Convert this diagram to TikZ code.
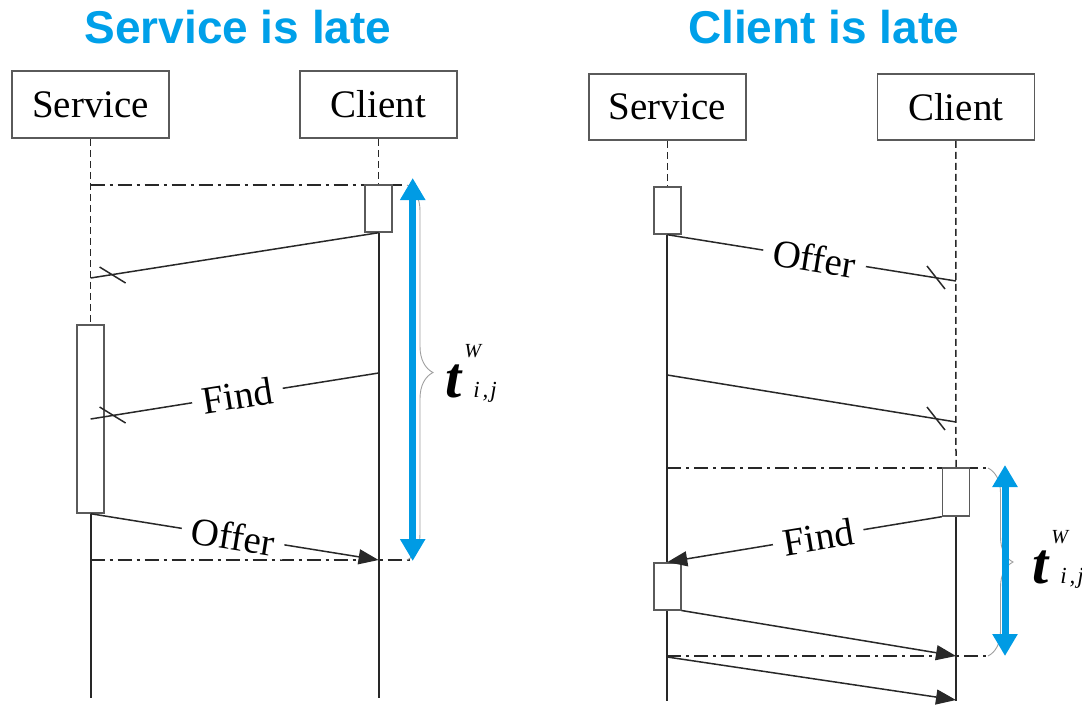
\documentclass[tikz,border=0pt]{standalone}
\usepackage{fontspec}
\setmainfont{Liberation Serif}
\newfontfamily\titlefont{Liberation Sans}
\usetikzlibrary{arrows.meta,calc,decorations.pathreplacing}
\definecolor{titleblue}{RGB}{0,160,233}
\definecolor{spanblue}{RGB}{0,155,228}
\definecolor{linegray}{RGB}{40,40,40}
\definecolor{boxgray}{RGB}{90,90,90}
% waiting-time symbol t^W_{i,j}
\newcommand\waitsym{{\fontsize{58}{58}\selectfont\bfseries\itshape t}\rlap{\kern3pt\raisebox{40pt}{\fontsize{20}{20}\selectfont\itshape W}}\kern12pt{\fontsize{23}{23}\selectfont\itshape i\kern3pt,\kern2pt j}}
\begin{document}
\begin{tikzpicture}[x=1pt,y=-1pt,
  seqtitle/.style={font=\titlefont\bfseries\fontsize{46}{46}\selectfont, text=titleblue, anchor=base, inner sep=0},
  header/.style={draw=boxgray, line width=1.6pt, fill=white, minimum width=157pt, minimum height=67pt, inner sep=0, font=\fontsize{39}{39}\selectfont},
  actbar/.style={draw=boxgray, line width=1.4pt, fill=white, minimum width=27pt, inner sep=0},
  lifeon/.style={draw=linegray, line width=1.8pt},
  lifeoff/.style={draw=linegray, line width=1.5pt, dash pattern=on 7pt off 4pt},
  window/.style={draw=linegray, line width=1.6pt, dash pattern=on 14pt off 5pt on 3pt off 5pt},
  msgline/.style={draw=linegray, line width=1.5pt},
  msgcall/.style={msgline, -{Triangle[length=20pt,width=15pt]}},
  msglabel/.style={sloped, fill=white, inner xsep=10pt, inner ysep=1pt, font=\fontsize{39}{39}\selectfont},
  waitspan/.style={draw=spanblue, line width=7pt, {Triangle[length=22pt,width=24pt]}-{Triangle[length=22pt,width=24pt]}},
  waitbrace/.style={draw=gray!75, line width=0.9pt, decorate},
  waitlabel/.style={anchor=base west, inner sep=0}
]
\useasboundingbox (0,0) rectangle (1082,705);

% titles
\node[seqtitle] (ttl1) at (238,43) {Service is late};
\node[seqtitle] (ttl2) at (823.5,43) {Client is late};

% ---------------- service is late ----------------
\node[header] (s1) at (90.6,104.5) {Service};
\node[header] (c1) at (378.6,104.5) {Client};
\coordinate (s1end) at (90.6,698);
\coordinate (c1end) at (378.6,698);
\path (378.6,208.5) node[actbar, minimum height=47pt] (ca1) {};
\path (90.6,419) node[actbar, minimum height=188pt] (sa1) {};

\draw[lifeoff] (s1.south) -- (sa1.north);
\draw[lifeon] (sa1.south) -- (s1end);
\draw[lifeoff] (c1.south) -- (ca1.north);
\draw[lifeon] (ca1.south) -- (c1end);

\coordinate (w1a) at (90.6,185);
\coordinate (w1b) at (403,185);
\coordinate (w1c) at (90.6,560);
\coordinate (w1d) at (413,560);
\draw[window] (w1a) -- (w1b);
\draw[window] (w1c) -- (w1d);

\node[actbar, minimum height=47pt] at (ca1) {};
\node[actbar, minimum height=188pt] at (sa1) {};

% lost offer
\coordinate (m1e) at (90.6,278);
\draw[msgline] (ca1.south) -- (m1e);
\draw[msgline] ($(m1e)+(9,-11)$) -- ($(m1e)+(35,5)$);
% find
\coordinate (f1s) at (378.6,373);
\coordinate (f1e) at (90.6,419);
\draw[msgline] (f1s) -- node[msglabel, pos=0.49] (f1l) {Find} (f1e);
\draw[msgline] ($(f1e)+(9,-12)$) -- ($(f1e)+(35,4)$);
% offer
\coordinate (o1e) at (378.6,560);
\draw[msgcall] (sa1.south) -- node[msglabel, pos=0.495] (o1l) {Offer} (o1e);

% waiting time
\coordinate (br1a) at (407,185);
\coordinate (br1b) at (407,560);
\draw[waitbrace, decoration={brace, amplitude=26pt}] (br1a) -- (br1b);
\coordinate (b1t) at (412.7,178);
\coordinate (b1b) at (412.7,561);
\draw[waitspan] (b1t) -- (b1b);
\node[waitlabel] (t1) at (445,397) {\waitsym};

% ---------------- client is late ----------------
\node[header, minimum height=66pt] (s2) at (667.3,107) {Service};
\node[header, minimum height=66pt] (c2) at (955.8,107) {Client};
\coordinate (s2end) at (667.3,701);
\coordinate (c2end) at (956,701);
\path (667.3,210.5) node[actbar, minimum height=47pt] (sa2) {};
\path (956,492) node[actbar, minimum height=48pt] (ca2) {};
\path (667.3,586.3) node[actbar, minimum height=47pt] (sb2) {};

\draw[lifeoff] (s2.south) -- (sa2.north);
\draw[lifeon] (sa2.south) -- (s2end);
\draw[lifeoff] (c2.south) -- (ca2.north);
\draw[lifeon] (ca2.south) -- (c2end);

\coordinate (w2a) at (667.3,468);
\coordinate (w2b) at (990,468);
\coordinate (w2c) at (667.3,656);
\coordinate (w2d) at (990,656);
\draw[window] (w2a) -- (w2b);
\draw[window] (w2c) -- (w2d);

\node[actbar, minimum height=47pt] at (sa2) {};
\node[actbar, minimum height=48pt] at (ca2) {};
\node[actbar, minimum height=47pt] at (sb2) {};

% lost offer
\coordinate (o2e) at (956,281);
\draw[msgline] (sa2.south) -- node[msglabel, pos=0.51] (o2l) {Offer} (o2e);
\draw[msgline] ($(o2e)+(-29,-15)$) -- ($(o2e)+(-11,8)$);
% lost message
\coordinate (q2s) at (667.3,375);
\coordinate (q2e) at (956,422);
\draw[msgline] (q2s) -- (q2e);
\draw[msgline] ($(q2e)+(-29,-15)$) -- ($(q2e)+(-11,8)$);
% find
\draw[msgcall] (ca2.south west) -- node[msglabel, pos=0.45] (f2l) {Find} (sb2.north);
% replies
\coordinate (r2e) at (956,656);
\draw[msgcall] (sb2.south east) -- (r2e);
\coordinate (z2s) at (667.3,657);
\coordinate (z2e) at (956,700);
\draw[msgcall] (z2s) -- (z2e);

% waiting time
\coordinate (br2a) at (988,468);
\coordinate (br2b) at (988,656);
\draw[waitbrace, decoration={brace, amplitude=25pt}] (br2a) -- (br2b);
\coordinate (b2t) at (1005,465);
\coordinate (b2b) at (1005,656);
\draw[waitspan] (b2t) -- (b2b);
\node[waitlabel] (t2) at (1032,583) {\waitsym};
\end{tikzpicture}
\end{document}
